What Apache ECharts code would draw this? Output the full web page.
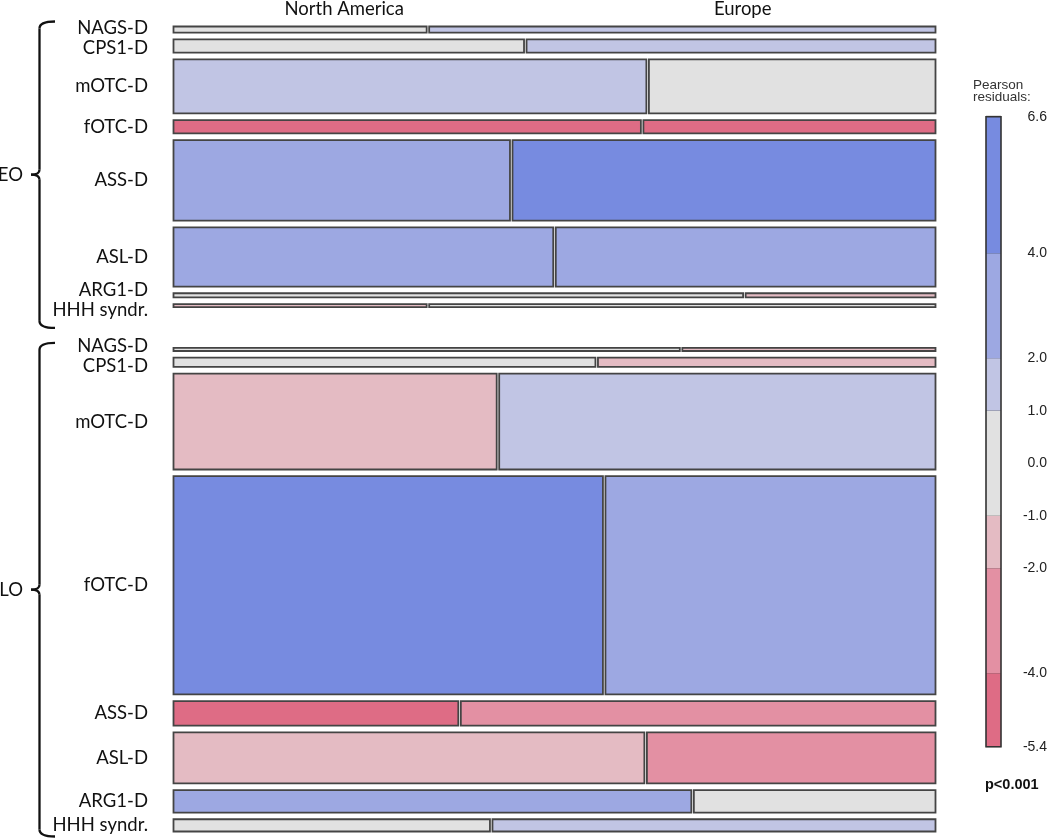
<!DOCTYPE html>
<html><head><meta charset="utf-8">
<script src="https://cdn.jsdelivr.net/npm/echarts@6/dist/echarts.min.js"></script>
<style>html,body{margin:0;padding:0;background:#fff}#c{width:1050px;height:840px}</style>
</head><body><div id="c"></div>
<script>
// ---------------- data ----------------
const regions = ['North America', 'Europe'];
const onsetGroups = ['EO', 'LO'];
const disorders = ['NAGS-D', 'CPS1-D', 'mOTC-D', 'fOTC-D', 'ASS-D', 'ASL-D', 'ARG1-D', 'HHH syndr.'];
// patient counts per disorder (estimated from tile areas)
const eoNorthAmerica = [2, 6, 33, 8, 35, 29, 3, 1];
const eoEurope       = [4, 7, 20, 5, 44, 29, 1, 2];
const loNorthAmerica = [2, 5, 40, 121, 9, 31, 15, 5];
const loEurope       = [1, 4, 54, 93, 15, 19, 7, 7];
// Pearson residuals (estimated from shading)
const eoResidNA = [0.5, -0.5, 1.5, -4.8, 3.0, 2.8, 0.3, -1.2];
const eoResidEU = [1.3, 1.4, 0.6, -5.0, 5.5, 2.6, -1.3, -0.3];
const loResidNA = [0.2, -0.4, -1.6, 6.6, -5.4, -1.5, 2.3, -0.6];
const loResidEU = [-1.1, -1.5, 1.2, 3.2, -2.8, -3.0, -0.5, 1.1];
// legend
const legendTicks = [-5.4, -4, -2, -1, 0, 1, 2, 4, 6.6];
const shadeBreaks = [-5.4, -4, -2, -1, 1, 2, 4, 6.6];
const shadeColors = ['#de6c85', '#e390a3', '#e4bbc3', '#e1e1e1', '#c1c5e4', '#9da8e2', '#778be0'];
const legendTitle = 'Pearson\nresiduals:';
const pValueText = 'p<0.001';

// ---------------- layout constants ----------------
const ROW_GAP = 6.6, GROUP_GAP = 40, X_GAP = 0.0033;
const HEADER_POS = [0.224, 0.747];
const LABEL_FONT = 'Lato';
const LEG_FONT = '"Liberation Sans", Arial, sans-serif';

function colorFor(r) {
  for (let i = 0; i < shadeColors.length; i++) {
    if (r < shadeBreaks[i + 1] || i === shadeColors.length - 1) return shadeColors[i];
  }
}

const groups = [
  { na: eoNorthAmerica, eu: eoEurope, rna: eoResidNA, reu: eoResidEU },
  { na: loNorthAmerica, eu: loEurope, rna: loResidNA, reu: loResidEU }
];
const tiles = [], rows = [], groupExt = [];
let cursor = 0;
groups.forEach((g, gi) => {
  if (gi > 0) cursor += GROUP_GAP - ROW_GAP;
  const start = cursor;
  disorders.forEach((d, i) => {
    const tot = g.na[i] + g.eu[i];
    const f = g.na[i] / tot;
    const y0 = cursor, y1 = cursor + tot;
    const xs = f * (1 - X_GAP);
    tiles.push([0, xs, y0, y1, g.rna[i]]);
    tiles.push([xs + X_GAP, 1, y0, y1, g.reu[i]]);
    rows.push({ label: d, group: gi, center: (y0 + y1) / 2 });
    cursor = y1 + ROW_GAP;
  });
  groupExt.push([start, cursor - ROW_GAP]);
});
const yMax = cursor - ROW_GAP;

const legendBins = shadeColors.map((c, i) => [shadeBreaks[i], shadeBreaks[i + 1], i]);

const chart = echarts.init(document.getElementById('c'), null, { renderer: 'canvas' });
chart.setOption({
  animation: false,
  backgroundColor: '#fff',
  grid: [
    { left: 173.5, right: 114.5, top: 26.5, bottom: 8.5 },
    { left: 986, right: 47, top: 116.7, bottom: 93.3 }
  ],
  xAxis: [
    { gridIndex: 0, type: 'value', min: 0, max: 1, show: false },
    { gridIndex: 1, type: 'value', min: 0, max: 1, show: false }
  ],
  yAxis: [
    { gridIndex: 0, type: 'value', min: 0, max: yMax, inverse: true, show: false },
    {
      gridIndex: 1, type: 'value', min: -5.4, max: 6.6, position: 'right',
      axisLine: { show: false }, splitLine: { show: false },
      axisTick: { show: true, customValues: legendTicks, length: 15, lineStyle: { color: '#222', width: 1.3 } },
      axisLabel: {
        show: true, customValues: legendTicks, margin: 46, align: 'right',
        formatter: v => Number(v).toFixed(1), fontSize: 14, fontFamily: LEG_FONT, color: '#222'
      }
    }
  ],
  series: [
    {
      type: 'custom', xAxisIndex: 0, yAxisIndex: 0, silent: true, clip: false,
      data: tiles,
      renderItem: (params, api) => {
        const p0 = api.coord([api.value(0), api.value(2)]);
        const p1 = api.coord([api.value(1), api.value(3)]);
        return {
          type: 'rect',
          shape: { x: p0[0], y: p0[1], width: p1[0] - p0[0], height: p1[1] - p0[1] },
          style: { fill: colorFor(api.value(4)), stroke: '#444', lineWidth: 1.8 }
        };
      }
    },
    {
      type: 'custom', xAxisIndex: 1, yAxisIndex: 1, silent: true, clip: false,
      data: legendBins,
      renderItem: (params, api) => {
        const p0 = api.coord([0, api.value(1)]);
        const p1 = api.coord([1, api.value(0)]);
        return {
          type: 'rect',
          shape: { x: p0[0], y: p0[1], width: p1[0] - p0[0], height: p1[1] - p0[1] },
          style: { fill: shadeColors[api.value(2)], stroke: null }
        };
      }
    },
    {
      type: 'custom', xAxisIndex: 1, yAxisIndex: 1, silent: true, clip: false,
      data: [[-5.4, 6.6]],
      renderItem: (params, api) => {
        const p0 = api.coord([0, api.value(1)]);
        const p1 = api.coord([1, api.value(0)]);
        return {
          type: 'rect',
          shape: { x: p0[0], y: p0[1], width: p1[0] - p0[0], height: p1[1] - p0[1] },
          style: { fill: null, stroke: '#333', lineWidth: 1.6 }
        };
      }
    }
  ]
});

// ---------- labels, headers, braces (positions derived from the axes) ----------
const px = (x, y) => chart.convertToPixel({ gridIndex: 0 }, [x, y]);
const graphics = [];
const braceStyle = { fill: null, stroke: '#111', lineWidth: 2.3 };

// column headers
regions.forEach((r, i) => {
  const p = px(HEADER_POS[i], 0);
  graphics.push({
    type: 'text', x: p[0], y: 9.5,
    style: { text: r, font: '18.5px ' + LABEL_FONT, fill: '#111', align: 'center', verticalAlign: 'middle' }
  });
});

// row labels with simple collision relaxation inside each group
const MIN_SEP = 20;
onsetGroups.forEach((gName, gi) => {
  const gr = rows.filter(r => r.group === gi).map(r => ({ label: r.label, y: px(0, r.center)[1] }));
  for (let it = 0; it < 60; it++) {
    for (let i = 1; i < gr.length; i++) {
      const d = gr[i].y - gr[i - 1].y;
      if (d < MIN_SEP) { const s = (MIN_SEP - d) / 2; gr[i - 1].y -= s; gr[i].y += s; }
    }
  }
  gr.forEach(r => graphics.push({
    type: 'text', x: 148, y: r.y,
    style: { text: r.label, font: '18.5px ' + LABEL_FONT, fill: '#111', align: 'right', verticalAlign: 'middle' }
  }));

  // brace
  const topPx = px(0, groupExt[gi][0])[1];
  const botPx = px(0, groupExt[gi][1])[1];
  const yt = topPx - 5;
  const yb = gi < onsetGroups.length - 1 ? px(0, groupExt[gi + 1][0])[1] - 20 : botPx + 5;
  const ym = (yt + yb) / 2;
  const xl = 39.5, xh = 55, xc = 31;
  graphics.push(
    { type: 'bezierCurve', shape: { x1: xh, y1: yt, cpx1: xl, cpy1: yt, x2: xl, y2: yt + 7 }, style: braceStyle },
    { type: 'line', shape: { x1: xl, y1: yt + 7, x2: xl, y2: ym - 5 }, style: braceStyle },
    { type: 'bezierCurve', shape: { x1: xl, y1: ym - 5, cpx1: xl, cpy1: ym, x2: xc, y2: ym }, style: braceStyle },
    { type: 'bezierCurve', shape: { x1: xc, y1: ym, cpx1: xl, cpy1: ym, x2: xl, y2: ym + 5 }, style: braceStyle },
    { type: 'line', shape: { x1: xl, y1: ym + 5, x2: xl, y2: yb - 7 }, style: braceStyle },
    { type: 'bezierCurve', shape: { x1: xl, y1: yb - 7, cpx1: xl, cpy1: yb, x2: xh, y2: yb }, style: braceStyle }
  );
  graphics.push({
    type: 'text', x: 23, y: ym,
    style: { text: gName, font: '18.5px ' + LABEL_FONT, fill: '#111', align: 'right', verticalAlign: 'middle' }
  });
});

// legend title and p-value
graphics.push({
  type: 'text', x: 973, y: 79,
  style: { text: legendTitle, font: '13.5px ' + LEG_FONT, fill: '#333', align: 'left', verticalAlign: 'top', lineHeight: 12 }
});
graphics.push({
  type: 'text', x: 985, y: 785,
  style: { text: pValueText, font: 'bold 14.5px ' + LEG_FONT, fill: '#111', align: 'left', verticalAlign: 'middle' }
});

chart.setOption({ graphic: graphics });
</script>
</body></html>
